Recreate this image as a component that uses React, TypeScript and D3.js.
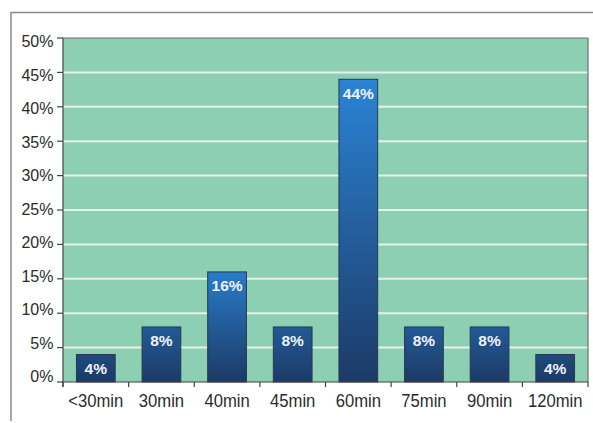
import React from "react";
import * as d3 from "d3";

// Share of responses per duration bucket (percent)
const categories = ["<30min", "30min", "40min", "45min", "60min", "75min", "90min", "120min"];
const shares = [4, 8, 16, 8, 44, 8, 8, 4];
const yTicks = [0, 5, 10, 15, 20, 25, 30, 35, 40, 45, 50];

const W = 593;
const H = 423;
const plot = { left: 63, right: 588, top: 38, bottom: 382 };

const FONT = "'Liberation Sans', Arial, sans-serif";
const BAR_DARK = "#1c3a66";
const BAR_BRIGHT = "#2b83d4";

export default function App() {
  const x = d3
    .scaleBand<string>()
    .domain(categories)
    .range([plot.left, plot.right])
    .paddingInner(0.41)
    .paddingOuter(0.205);

  const y = d3.scaleLinear().domain([0, 50]).range([plot.bottom, plot.top]);
  // tick labels sit on a slightly tighter ladder than the gridlines
  const yLabel = d3.scaleLinear().domain([0, 50]).range([382, 47]);

  const step = x.step();
  const boundaries = d3.range(categories.length + 1).map((i) => plot.left + i * step);
  const topColor = (v: number) => d3.interpolateRgb(BAR_DARK, BAR_BRIGHT)(Math.min(1, v / 18));

  return (
    <svg
      width={W}
      height={H}
      style={{ position: "absolute", left: 0, top: 0, background: "#fff" }}
      fontFamily={FONT}
    >
      <defs>
        {shares.map((v, i) => (
          <linearGradient key={i} id={`bar-grad-${i}`} x1="0" y1="0" x2="0" y2="1">
            <stop offset="0%" stopColor={topColor(v)} />
            <stop offset="100%" stopColor={BAR_DARK} />
          </linearGradient>
        ))}
      </defs>

      {/* outer frame */}
      <line x1={11} x2={W} y1={12.5} y2={12.5} stroke="#8a8a8a" strokeWidth={1.5} />
      <line x1={11} x2={11} y1={12} y2={421} stroke="#8a8a8a" strokeWidth={1.5} />

      {/* plot background */}
      <rect
        x={plot.left}
        y={plot.top}
        width={plot.right - plot.left}
        height={plot.bottom - plot.top}
        fill="#8dcfb3"
      />

      {/* gridlines */}
      {yTicks
        .filter((t) => t > 0 && t < 50)
        .map((t) => (
          <line
            key={t}
            x1={plot.left}
            x2={plot.right}
            y1={y(t)}
            y2={y(t)}
            stroke="#e6f1ec"
            strokeWidth={2}
          />
        ))}

      {/* plot border top / right */}
      <line x1={plot.left} x2={plot.right} y1={plot.top} y2={plot.top} stroke="#6f6f6f" strokeWidth={1.2} />
      <line x1={plot.right} x2={plot.right} y1={plot.top} y2={plot.bottom} stroke="#6f6f6f" strokeWidth={1.2} />

      {/* bars */}
      {shares.map((v, i) => {
        const bx = x(categories[i])!;
        const by = y(v);
        return (
          <g key={i}>
            <rect
              x={bx}
              y={by}
              width={x.bandwidth()}
              height={plot.bottom - by}
              fill={`url(#bar-grad-${i})`}
              stroke="#27394d"
              strokeWidth={1}
            />
            <text
              x={bx + x.bandwidth() / 2}
              y={by + 19.5}
              textAnchor="middle"
              fill="#eef3f8"
              fontSize={15.5}
              fontWeight="bold"
            >
              {v}%
            </text>
          </g>
        );
      })}

      {/* y axis */}
      <line x1={plot.left} x2={plot.left} y1={plot.top} y2={plot.bottom + 5} stroke="#444" strokeWidth={1.2} />
      {yTicks.map((t) => (
        <g key={t}>
          <line x1={plot.left - 6} x2={plot.left} y1={y(t)} y2={y(t)} stroke="#444" strokeWidth={1.2} />
          <text x={53.5} y={yLabel(t)} textAnchor="end" fill="#2b2b2b" fontSize={16}>
            {t}%
          </text>
        </g>
      ))}

      {/* x axis */}
      <line x1={plot.left} x2={plot.right} y1={plot.bottom} y2={plot.bottom} stroke="#444" strokeWidth={1.2} />
      {boundaries.map((bx, i) => (
        <line key={i} x1={bx} x2={bx} y1={plot.bottom} y2={plot.bottom + 5} stroke="#444" strokeWidth={1.2} />
      ))}
      {categories.map((c) => {
        const cx = x(c)! + x.bandwidth() / 2;
        return (
          <text
            key={c}
            transform={`translate(${cx},407) scale(0.9,1)`}
            textAnchor="middle"
            fill="#2b2b2b"
            fontSize={18.5}
          >
            {c}
          </text>
        );
      })}
    </svg>
  );
}
